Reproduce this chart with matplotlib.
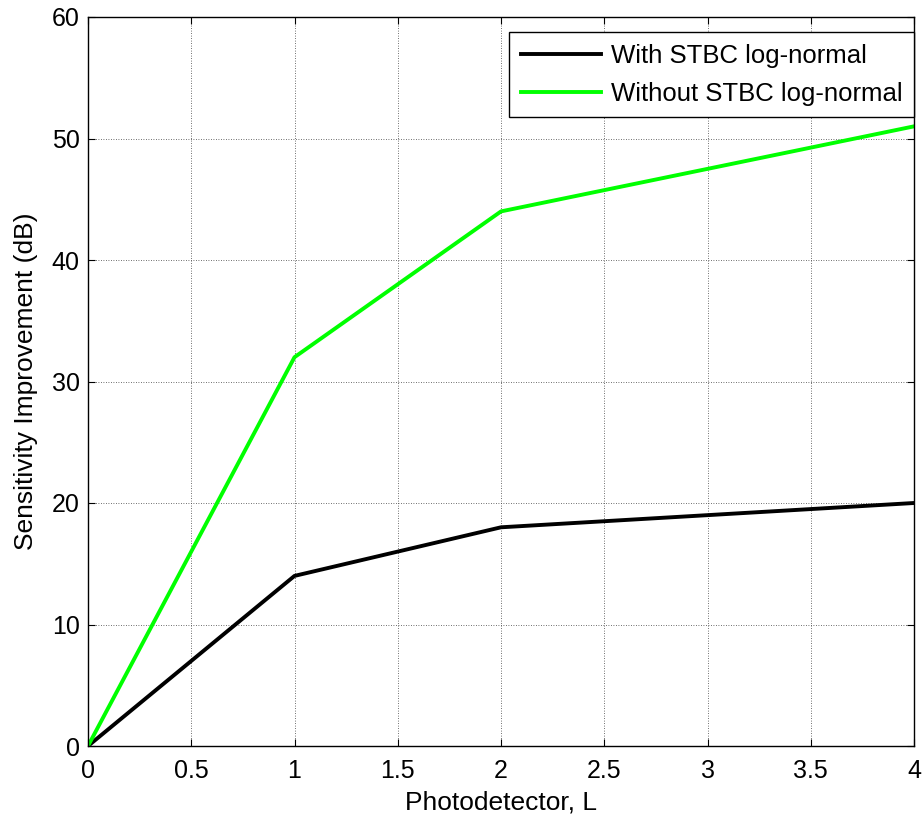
import matplotlib.pyplot as plt

# Data
L = [0, 1, 2, 4]
with_stbc = [0, 14, 18, 20]
without_stbc = [0, 32, 44, 51]

plt.rcParams['font.family'] = ['Liberation Sans', 'DejaVu Sans']

fig = plt.figure(figsize=(9.24, 8.17), dpi=100)
ax = fig.add_axes([88 / 924, 1 - 746 / 817, (914 - 88) / 924, (746 - 17) / 817])

ax.plot(L, with_stbc, color='black', lw=2.8, label='With STBC log-normal')
ax.plot(L, without_stbc, color='#00ff00', lw=2.8, label='Without STBC log-normal')

ax.set_xlim(0, 4)
ax.set_ylim(0, 60)
ax.set_xticks([0, 0.5, 1, 1.5, 2, 2.5, 3, 3.5, 4])
ax.set_xticklabels(['0', '0.5', '1', '1.5', '2', '2.5', '3', '3.5', '4'])
ax.set_yticks(range(0, 61, 10))

ax.grid(True, color='#404040', linestyle=(0, (1, 2)), linewidth=0.6)
ax.tick_params(direction='in', top=True, right=True, labelsize=18, length=5)
ax.tick_params(axis='x', pad=9)
ax.tick_params(axis='y', pad=6)
for s in ax.spines.values():
    s.set_linewidth(1.0)

ax.set_xlabel('Photodetector, L', fontsize=19, labelpad=6)
ax.set_ylabel('Sensitivity Improvement (dB)', fontsize=19, labelpad=10)

leg = ax.legend(loc='upper right', bbox_to_anchor=(1.0, 1 - 15 / 729), fontsize=18.5,
                fancybox=False, framealpha=1, edgecolor='black', borderaxespad=0,
                borderpad=0.45, handlelength=3.1, handletextpad=0.4, labelspacing=0.55)
leg.get_frame().set_linewidth(1.0)

fig.savefig('out.png', dpi=100)
